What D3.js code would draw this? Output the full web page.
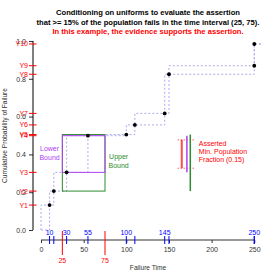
<!DOCTYPE html>
<html>
<head>
<meta charset="utf-8">
<script src="https://cdn.jsdelivr.net/npm/d3@7"></script>
<style>
  body { margin: 0; background: #fff; }
  svg { display: block; font-family: "Liberation Sans", Arial, sans-serif; }
</style>
</head>
<body>
<svg id="chart" width="280" height="280"></svg>
<script>
// observed failure times and the uniform order statistics matched to them
const failTimes = [10, 15, 30, 55, 100, 110, 145, 150, 250, 250];
const uniforms = [0.132, 0.206, 0.305, 0.499, 0.505, 0.556, 0.617, 0.824, 0.869, 0.984];
const uLabels = ["Y1", "Y2", "Y3", "Y4", "Y5", "Y6", "Y7", "Y8", "Y9", "Y10"];
const timeLabels = [10, 30, 55, 100, 145, 250];
const intervalEnds = [25, 75];
const xTicks = [0, 50, 100, 150, 200, 250];
const yTicks = [0, 0.2, 0.4, 0.6, 0.8, 1.0];
const minFraction = 0.15;
const titleLines = [
  "Conditioning on uniforms to evaluate the assertion",
  "that >= 15% of the population fails in the time interval (25, 75)."
];
const verdict = "In this example, the evidence supports the assertion.";
const assertedText = ["Asserted", "Min. Population", "Fraction (0.15)"];

const RED = "#ff0000", BLUE = "#0000ff", PURPLE = "#b040f0", GREEN = "#2e8b2e", STEP = "#aaaaee";

const svg = d3.select("#chart");
const x = d3.scaleLinear().domain([-10, 260]).range([32.5, 262.8]);
const y = d3.scaleLinear().domain([-0.04, 1.04]).range([237.6, 33.4]);
const axisY = 240; // x axis sits just under the plot box
const fs = 7;

// title
svg.append("g").selectAll("text")
  .data(titleLines)
  .join("text")
  .attr("x", 148).attr("y", (d, i) => 15 + i * 10)
  .attr("text-anchor", "middle")
  .attr("font-weight", "bold").attr("font-size", 7.6)
  .text(d => d);
svg.append("text")
  .attr("x", 148).attr("y", 33.7)
  .attr("text-anchor", "middle")
  .attr("font-weight", "bold").attr("font-size", 7.6)
  .attr("fill", RED)
  .text(verdict);

// dotted step functions through the points (upper and lower)
const pts = [[0, 0]].concat(failTimes.map((t, i) => [t, uniforms[i]])).concat([[260, uniforms[uniforms.length - 1]]]);
const stepBefore = d3.line().x(d => x(d[0])).y(d => y(d[1])).curve(d3.curveStepBefore);
const stepAfter = d3.line().x(d => x(d[0])).y(d => y(d[1])).curve(d3.curveStepAfter);
[stepBefore, stepAfter].forEach(gen => {
  svg.append("path")
    .attr("d", gen(pts))
    .attr("fill", "none")
    .attr("stroke", STEP).attr("stroke-width", 1)
    .attr("stroke-dasharray", "2,2");
});

// bounds boxes over the time interval
const [ia, ib] = intervalEnds;
const boxes = [
  { lo: uniforms[1], hi: uniforms[4], color: GREEN },
  { lo: uniforms[2], hi: uniforms[3], color: PURPLE }
];
svg.append("g").selectAll("rect")
  .data(boxes)
  .join("rect")
  .attr("x", x(ia)).attr("width", x(ib) - x(ia))
  .attr("y", d => y(d.hi)).attr("height", d => y(d.lo) - y(d.hi))
  .attr("fill", "none").attr("stroke", d => d.color).attr("stroke-width", 1);

svg.append("g").selectAll("text")
  .data(["Lower", "Bound"])
  .join("text")
  .attr("x", x(10)).attr("y", (d, i) => 151 + i * 8.5)
  .attr("text-anchor", "middle").attr("font-size", fs).attr("fill", PURPLE)
  .text(d => d);
svg.append("g").selectAll("text")
  .data(["Upper", "Bound"])
  .join("text")
  .attr("x", x(91)).attr("y", (d, i) => 159 + i * 8.5)
  .attr("text-anchor", "middle").attr("font-size", fs).attr("fill", GREEN)
  .text(d => d);

// asserted fraction marker compared with the two bounds
const mid = (uniforms[2] + uniforms[3]) / 2;
const aLo = mid - minFraction / 2, aHi = mid + minFraction / 2;
svg.append("g").selectAll("line")
  .data([aLo, aHi])
  .join("line")
  .attr("x1", x(160)).attr("x2", x(180))
  .attr("y1", d => y(d)).attr("y2", d => y(d))
  .attr("stroke", RED).attr("stroke-dasharray", "1.5,1.5").attr("opacity", 0.6);
svg.append("line")
  .attr("x1", x(165)).attr("x2", x(165)).attr("y1", y(aLo)).attr("y2", y(aHi))
  .attr("stroke", RED).attr("stroke-width", 2).attr("opacity", 0.7);
svg.append("line")
  .attr("x1", x(171)).attr("x2", x(171)).attr("y1", y(uniforms[2])).attr("y2", y(uniforms[3]))
  .attr("stroke", PURPLE).attr("stroke-width", 1.5);
svg.append("line")
  .attr("x1", x(175)).attr("x2", x(175)).attr("y1", y(uniforms[1])).attr("y2", y(uniforms[4]))
  .attr("stroke", GREEN).attr("stroke-width", 1.5);
svg.append("g").selectAll("text")
  .data(assertedText)
  .join("text")
  .attr("x", x(185)).attr("y", (d, i) => 145.5 + i * 8.2)
  .attr("font-size", fs).attr("fill", RED)
  .text(d => d);

// points
svg.append("g").selectAll("circle")
  .data(failTimes)
  .join("circle")
  .attr("cx", d => x(d)).attr("cy", (d, i) => y(uniforms[i]))
  .attr("r", 1.9).attr("fill", "#000");

// y axis
const yAxis = svg.append("g").attr("transform", `translate(${x(-10) + 0.5},0)`)
  .call(d3.axisLeft(y).tickValues(yTicks).tickSize(4).tickPadding(3).tickFormat(d3.format(".1f")));
yAxis.select(".domain").remove();
yAxis.append("line").attr("y1", y(0)).attr("y2", y(1)).attr("stroke", "#000");
yAxis.selectAll("text").attr("font-size", fs).attr("font-family", null).attr("fill", "#333");
yAxis.selectAll(".tick line").attr("stroke", "#333");

// red ticks for the uniforms
const yRed = svg.append("g").attr("transform", `translate(${x(-10) + 0.5},0)`);
yRed.selectAll("line")
  .data(uniforms)
  .join("line")
  .attr("x1", -4).attr("x2", 3.5)
  .attr("y1", d => y(d)).attr("y2", d => y(d))
  .attr("stroke", RED);
yRed.selectAll("text")
  .data(uniforms)
  .join("text")
  .attr("x", -5).attr("y", d => y(d)).attr("dy", "0.35em")
  .attr("text-anchor", "end").attr("font-size", fs).attr("fill", RED)
  .text((d, i) => uLabels[i]);

svg.append("text")
  .attr("transform", `translate(7,${y(0.5)}) rotate(-90)`)
  .attr("text-anchor", "middle").attr("font-size", 6.6).attr("fill", "#333")
  .text("Cumulative Probability of Failure");

// x axis
const xAxis = svg.append("g").attr("transform", `translate(0,${axisY})`)
  .call(d3.axisBottom(x).tickValues(xTicks).tickSize(3).tickPadding(4));
xAxis.select(".domain").remove();
xAxis.append("line").attr("x1", x(0)).attr("x2", x(250)).attr("stroke", "#333");
xAxis.selectAll("text").attr("font-size", fs).attr("font-family", null).attr("fill", "#333");
xAxis.selectAll(".tick line").attr("stroke", "#333");

// blue ticks at the failure times, labels above the axis
const xBlue = svg.append("g").attr("transform", `translate(0,${axisY})`);
xBlue.selectAll("line")
  .data(failTimes)
  .join("line")
  .attr("x1", d => x(d)).attr("x2", d => x(d))
  .attr("y1", -4).attr("y2", 4)
  .attr("stroke", BLUE);
xBlue.selectAll("text")
  .data(timeLabels)
  .join("text")
  .attr("x", d => x(d)).attr("y", -5.5)
  .attr("text-anchor", "middle").attr("font-size", fs).attr("fill", BLUE)
  .text(d => d);

// red ticks at the interval ends
const xRed = svg.append("g").attr("transform", `translate(0,${axisY})`);
xRed.selectAll("line")
  .data(intervalEnds)
  .join("line")
  .attr("x1", d => x(d)).attr("x2", d => x(d))
  .attr("y1", -9).attr("y2", 15)
  .attr("stroke", RED);
xRed.selectAll("text")
  .data(intervalEnds)
  .join("text")
  .attr("x", d => x(d)).attr("y", 23)
  .attr("text-anchor", "middle").attr("font-size", fs).attr("fill", RED)
  .text(d => d);

svg.append("text")
  .attr("x", 148).attr("y", 270)
  .attr("text-anchor", "middle").attr("font-size", 6.6).attr("fill", "#333")
  .text("Failure Time");
</script>
</body>
</html>
